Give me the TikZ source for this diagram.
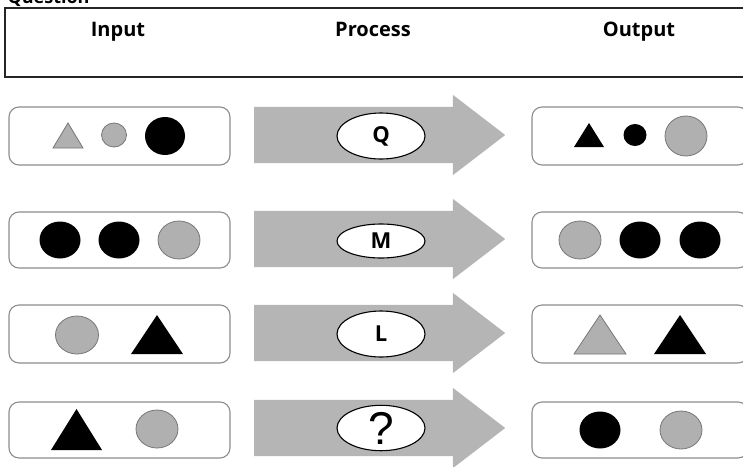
\documentclass[tikz,border=0pt]{standalone}
\usepackage{fontspec}
\setmainfont{Open Sans}
\newfontfamily\markfont{Liberation Sans}
\usetikzlibrary{shapes.geometric,shapes.arrows}
\definecolor{flowgray}{RGB}{181,181,181}
\definecolor{shapegray}{RGB}{176,176,176}
\definecolor{edgegray}{RGB}{118,118,118}
\definecolor{framegray}{RGB}{140,140,140}

\begin{document}
\begin{tikzpicture}[
  x=1pt, y=-1pt,
  slot/.style={draw=framegray,line width=1.1pt,rounded corners=10pt,minimum height=56pt,inner sep=0pt},
  flow/.style={single arrow,fill=flowgray,inner xsep=0pt,inner ysep=28pt,anchor=tail,
    minimum height=251pt,
    single arrow head extend=12pt,single arrow tip angle=75},
  rulebox/.style={ellipse,draw,line width=1.1pt,fill=white,inner sep=0pt,
    minimum width=88pt,font=\bfseries\fontsize{22}{24}\selectfont},
  dotblack/.style={ellipse,fill=black,inner sep=0pt},
  dotgray/.style={ellipse,draw=edgegray,line width=0.8pt,fill=shapegray,inner sep=0pt},
  triblack/.style={fill=black},
  trigray/.style={draw=edgegray,line width=0.8pt,fill=shapegray,line join=miter},
  colhead/.style={anchor=base,font=\bfseries\fontsize{20}{24}\selectfont}
]
\useasboundingbox (0,0) rectangle (743,466);

% header
\node[anchor=base west,font=\bfseries\fontsize{18}{20}\selectfont] (title) at (4,3) {Question};
\draw[line width=1.2pt,draw=black!85] (5,8) rectangle (760,77);
\node[colhead] (input) at (118,36) {Input};
\node[colhead] (process) at (373,36) {Process};
\node[colhead] (output) at (639,36) {Output};

% slots
\node[slot,minimum width=221pt,minimum height=58pt] (in1) at (119.5,136) {};
\node[slot,minimum width=221pt] (in2) at (119.5,240) {};
\node[slot,minimum width=221pt,minimum height=58pt] (in3) at (119.5,334) {};
\node[slot,minimum width=221pt] (in4) at (119.5,430) {};
\node[slot,minimum width=216pt,minimum height=58pt] (out1) at (640,136) {};
\node[slot,minimum width=216pt] (out2) at (640,240) {};
\node[slot,minimum width=216pt,minimum height=58pt] (out3) at (640,334) {};
\node[slot,minimum width=216pt] (out4) at (640,430) {};

% process arrows
\node[flow] (flow1) at (254,135) {};
\node[flow] (flow2) at (254,239) {};
\node[flow] (flow3) at (254,333) {};
\node[flow] (flow4) at (254,428) {};
\node[rulebox,minimum height=46pt] (q) at (381,136) {Q};
\node[rulebox,minimum height=34pt] (m) at (381,241) {M};
\node[rulebox,minimum height=46pt] (l) at (381,334) {L};
\node[rulebox,minimum height=37pt,font=\markfont\fontsize{46}{46}\selectfont] (unknown) at (381,428) {?};

% row 1
\draw[trigray] (53,148) -- (68,123) -- (83,148) -- cycle;
\node[dotgray,minimum width=25pt,minimum height=24pt] (i1b) at (114,135) {};
\node[dotblack,minimum width=40pt,minimum height=38pt] (i1c) at (165,136) {};
\fill[triblack] (574,147) -- (589,123) -- (604,147) -- cycle;
\node[dotblack,minimum width=23pt,minimum height=22pt] (o1b) at (635,135) {};
\node[dotgray,minimum width=42pt,minimum height=40pt] (o1c) at (686,136) {};

% row 2
\node[dotblack,minimum width=41pt,minimum height=37pt] (i2a) at (60,240) {};
\node[dotblack,minimum width=41pt,minimum height=37pt] (i2b) at (119,240) {};
\node[dotgray,minimum width=42pt,minimum height=38pt] (i2c) at (179,240) {};
\node[dotgray,minimum width=42pt,minimum height=38pt] (o2a) at (580,240) {};
\node[dotblack,minimum width=41pt,minimum height=37pt] (o2b) at (640,240) {};
\node[dotblack,minimum width=41pt,minimum height=37pt] (o2c) at (700,240) {};

% row 3
\node[dotgray,minimum width=43pt,minimum height=38pt] (i3a) at (77,335) {};
\fill[triblack] (131,354) -- (157,315) -- (183,354) -- cycle;
\draw[trigray] (574,354) -- (600,315) -- (626,354) -- cycle;
\fill[triblack] (654,354) -- (680,315) -- (706,354) -- cycle;

% row 4
\fill[triblack] (51,450) -- (76.5,409) -- (102,450) -- cycle;
\node[dotgray,minimum width=42pt,minimum height=38pt] (i4b) at (157,429) {};
\node[dotblack,minimum width=41pt,minimum height=37pt] (o4a) at (600,430) {};
\node[dotgray,minimum width=42pt,minimum height=38pt] (o4b) at (681,430) {};
\end{tikzpicture}
\end{document}
